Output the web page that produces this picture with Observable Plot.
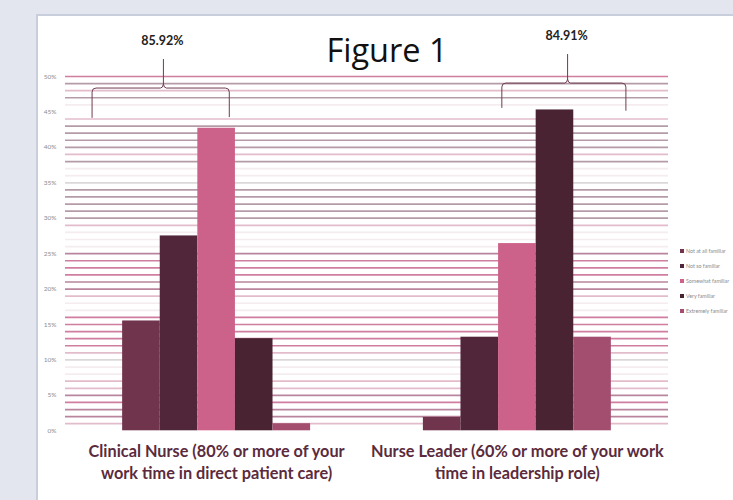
<!DOCTYPE html>
<html>
<head>
<meta charset="utf-8">
<script src="https://cdn.jsdelivr.net/npm/d3@7"></script>
<script src="https://cdn.jsdelivr.net/npm/@observablehq/plot@0.6"></script>
<style>
  html, body { margin: 0; padding: 0; width: 733px; height: 500px; overflow: hidden; background: #e3e6ef; }
  #panel { position: absolute; left: 36px; top: 14px; width: 720px; height: 520px; background: #fff; border: 2px solid #c8cedb; }
  #chart { position: absolute; left: 0; top: 0; }
  #title { position: absolute; left: 2px; width: 770px; top: 30px; text-align: center; font-family: "Open Sans", Lato, sans-serif; font-size: 32.5px; line-height: 40px; color: #111; }
  #legend { position: absolute; left: 680px; top: 243px; font-family: Lato, sans-serif; font-size: 5.3px; color: #8a8a8a; white-space: nowrap; }
  #legend div { height: 15.2px; display: flex; align-items: center; }
  #legend span.sw { display: inline-block; width: 4px; height: 4px; margin-right: 2px; }
</style>
</head>
<body>
<div id="panel"></div>
<div id="title">Figure 1</div>
<div id="chart"></div>
<div id="legend"></div>
<script>
// ---- data ----
const groups = ["Clinical Nurse", "Nurse Leader"];
const groupLabels = [
  "Clinical Nurse (80% or more of your\nwork time in direct patient care)",
  "Nurse Leader (60% or more of your work\ntime in leadership role)"
];
const series = ["Not at all familiar", "Not so familiar", "Somewhat familiar", "Very familiar", "Extremely familiar"];
const clinicalValues = [15.5, 27.5, 42.7, 13.0, 1.0];
const leaderValues = [1.89, 13.21, 26.42, 45.28, 13.21];
const totals = ["85.92%", "84.91%"];
const yTicks = [0, 5, 10, 15, 20, 25, 30, 35, 40, 45, 50];
const gridLevels = d3.range(1, 51);

// ---- styles ----
const seriesColors = ["#70344d", "#52263a", "#cc6289", "#4a2333", "#a34e6f"];
// gridline style for levels 1..50
const gridStyle = "qrrprqqffgqpppppffqrrpppr" + "fffqmmmmmgffmqmmmmqxfmqmp";
const gridColors = {p: "#d07ea0", r: "#b9849d", m: "#b59ba8", q: "#e3bccc", g: "#dcd8da", f: "#f4ecef"};

const values = [clinicalValues, leaderValues];
const rows = groups.flatMap((g, gi) => series.map((s, si) => ({key: g + "|" + s, group: g, series: s, value: values[gi][si]})));
const xDomain = [
  ...series.map(s => groups[0] + "|" + s),
  "gap1", "gap2", "gap3",
  ...series.map(s => groups[1] + "|" + s)
];
const labelRows = groups.map((g, gi) => ({key: g + "|" + series[2], label: groupLabels[gi]}));

const gridMarks = Object.keys(gridColors).map(k =>
  Plot.ruleY(gridLevels.filter(l => gridStyle[l - 1] === k), {stroke: gridColors[k], strokeWidth: 1.7})
);

const plot = Plot.plot({
  width: 733,
  height: 500,
  marginTop: 76,
  marginBottom: 69.7,
  marginLeft: 65,
  marginRight: 65,
  style: {background: "transparent", fontFamily: "Lato, sans-serif", fontSize: "6.5px", color: "#8c8c8c", overflow: "visible"},
  x: {type: "band", domain: xDomain, paddingInner: 0, paddingOuter: 1.52, round: false, axis: null},
  y: {domain: [0, 50], ticks: yTicks, tickFormat: d => d + "%", tickSize: 0, tickPadding: 9, label: null},
  color: {domain: series, range: seriesColors},
  marks: [
    ...gridMarks,
    Plot.barY(rows, {x: "key", y: "value", fill: "series", inset: 0}),
    Plot.text(labelRows, {x: "key", y: 0, text: "label", lineAnchor: "top", dy: 11, fontSize: 16.3, fontWeight: "bold", fill: "#5b2b3d", lineHeight: 1.35})
  ]
});
document.getElementById("chart").appendChild(plot);

// ---- braces with totals ----
const xs = plot.scale("x"), ys = plot.scale("y");
const bw = xs.bandwidth;
const X = k => xs.apply(k);
const Y = v => ys.apply(v);
const braces = [
  {left: X(groups[0] + "|" + series[0]) - 0.8 * bw, right: X(groups[0] + "|" + series[2]) + 0.85 * bw, tipFrac: 0.52, h: 48.3, tip: 52.4, endL: 44.1, endR: 44.2, label: totals[0]},
  {left: X(groups[1] + "|" + series[2]) + 0.1 * bw, right: X(groups[1] + "|" + series[4]) + 1.4 * bw, tipFrac: 0.53, h: 49.0, tip: 53.1, endL: 45.5, endR: 45.1, label: totals[1]}
];
const svg = d3.select(plot);
for (const b of braces) {
  const hy = Y(b.h), ty = Y(b.tip), tx = b.left + (b.right - b.left) * b.tipFrac, r = 4;
  const p = `M${b.left},${Y(b.endL)} L${b.left},${hy + r} Q${b.left},${hy} ${b.left + r},${hy} L${tx - 3},${hy} Q${tx - 0.5},${hy} ${tx},${hy - 4} L${tx},${ty}` +
            ` M${tx},${hy - 4} Q${tx + 0.5},${hy} ${tx + 3},${hy} L${b.right - r},${hy} Q${b.right},${hy} ${b.right},${hy + r} L${b.right},${Y(b.endR)}`;
  svg.append("path").attr("d", p).attr("fill", "none").attr("stroke", "#6e3c51").attr("stroke-width", 1);
  svg.append("text").attr("x", tx - 1).attr("y", ty - 14).attr("text-anchor", "middle")
    .attr("font-family", "Lato, sans-serif").attr("font-weight", "bold").attr("font-size", 12.5).attr("fill", "#222")
    .text(b.label);
}

// ---- legend ----
const leg = d3.select("#legend");
series.forEach((s, i) => {
  const row = leg.append("div");
  row.append("span").attr("class", "sw").style("background", seriesColors[i]);
  row.append("span").text(s);
});
</script>
</body>
</html>
